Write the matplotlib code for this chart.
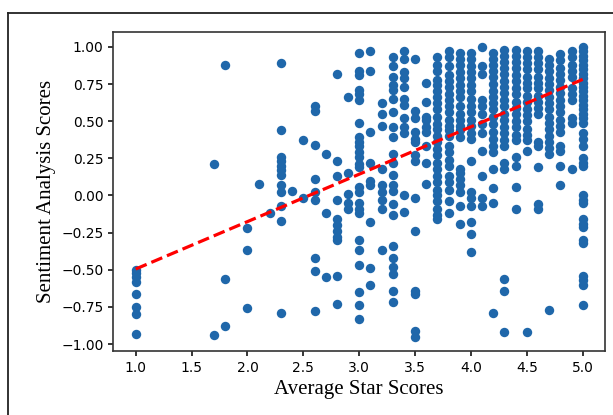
import numpy as np
import matplotlib
matplotlib.use("Agg")
import matplotlib.pyplot as plt
from matplotlib.lines import Line2D

# sentiment scores per average star score
scores = {
    1.0: [-0.50, -0.52, -0.55, -0.58, -0.66, -0.75, -0.80, -0.93],
    1.7: [0.21, -0.94],
    1.8: [0.88, -0.56, -0.88],
    2.0: [-0.22, -0.37, -0.76],
    2.1: [0.08],
    2.2: [-0.12],
    2.3: [0.89, 0.44, 0.26, 0.23, 0.20, 0.17, 0.14, 0.07, 0.02, -0.07, -0.17, -0.79],
    2.4: [0.03],
    2.5: [0.37, -0.02],
    2.6: [0.60, 0.57, 0.34, 0.11, 0.02, -0.03, -0.42, -0.51, -0.78],
    2.7: [0.28, -0.12, -0.55],
    2.8: [0.82, 0.23, 0.13, -0.03, -0.16, -0.20, -0.24, -0.28, -0.30, -0.54, -0.73],
    2.9: [0.66, 0.15, 0.01, -0.05, -0.09],
    3.0: [0.96, 0.84, 0.81, 0.71, 0.68, 0.64, 0.49, 0.39, 0.36, 0.33, 0.29, 0.26,
          0.21, 0.19, 0.06, 0.02, -0.05, -0.09, -0.12, -0.30, -0.37, -0.47, -0.65,
          -0.74, -0.83],
    3.1: [0.97, 0.84, 0.43, 0.22, 0.10, 0.07, -0.18, -0.49, -0.60],
    3.2: [0.62, 0.55, 0.47, 0.18, 0.07, 0.02, -0.03, -0.09, -0.37],
    3.3: [0.93, 0.87, 0.80, 0.74, 0.71, 0.65, 0.56, 0.46, 0.39, 0.28, 0.22, 0.14,
          0.07, 0.03, -0.06, -0.13, -0.34, -0.42, -0.48, -0.53, -0.64, -0.72],
    3.4: [0.97, 0.92, 0.83, 0.79, 0.73, 0.65, 0.61, 0.52, 0.46, 0.42, 0.0, -0.11],
    3.5: [0.92, 0.57, 0.52, 0.43, 0.38, 0.36, 0.27, 0.23, -0.02, -0.24, -0.64,
          -0.66, -0.91, -0.95],
    3.6: [0.76, 0.63, 0.53, 0.51, 0.46, 0.43, 0.33, 0.22, 0.08],
    3.7: [0.93, 0.88, 0.84, 0.78, 0.74, 0.70, 0.66, 0.62, 0.58, 0.53, 0.48, 0.45,
          0.40, 0.36, 0.31, 0.27, 0.22, 0.18, 0.13, 0.09, 0.04, 0.00, -0.04,
          -0.09, -0.13, -0.16],
    3.8: [0.97, 0.93, 0.87, 0.81, 0.77, 0.73, 0.68, 0.64, 0.60, 0.56, 0.51, 0.47,
          0.44, 0.40, 0.33, 0.29, 0.24, 0.20, 0.13, 0.09, 0.04, -0.04, -0.12],
    3.9: [0.96, 0.92, 0.88, 0.83, 0.79, 0.74, 0.70, 0.66, 0.60, 0.55, 0.51, 0.47,
          0.44, 0.39, 0.18, 0.15, 0.11, 0.07, 0.02, -0.07, -0.19],
    4.0: [0.96, 0.92, 0.87, 0.83, 0.79, 0.74, 0.70, 0.65, 0.60, 0.56, 0.51, 0.47,
          0.42, 0.38, 0.23, 0.02, -0.02, -0.07, -0.18, -0.26, -0.38],
    4.1: [1.00, 0.87, 0.82, 0.64, 0.60, 0.55, 0.48, 0.42, 0.30, 0.13, -0.02, -0.07],
    4.2: [0.96, 0.92, 0.88, 0.84, 0.80, 0.75, 0.70, 0.66, 0.62, 0.58, 0.53, 0.48,
          0.43, 0.38, 0.33, 0.29, 0.18, 0.05, -0.05, -0.79],
    4.3: [0.98, 0.94, 0.90, 0.86, 0.82, 0.77, 0.73, 0.69, 0.64, 0.60, 0.55, 0.51,
          0.46, 0.42, 0.37, 0.33, 0.22, 0.18, -0.56, -0.64, -0.92],
    4.4: [0.98, 0.94, 0.90, 0.86, 0.81, 0.77, 0.72, 0.68, 0.63, 0.59, 0.55, 0.50,
          0.46, 0.41, 0.37, 0.26, 0.20, 0.06, -0.09],
    4.5: [0.97, 0.93, 0.89, 0.85, 0.80, 0.76, 0.72, 0.67, 0.63, 0.58, 0.54, 0.50,
          0.45, 0.41, 0.37, 0.30, -0.92],
    4.6: [0.97, 0.93, 0.89, 0.85, 0.80, 0.76, 0.72, 0.67, 0.63, 0.59, 0.55, 0.36,
          0.33, 0.19, -0.06, -0.09],
    4.7: [0.92, 0.88, 0.84, 0.79, 0.75, 0.71, 0.66, 0.62, 0.58, 0.53, 0.49, 0.45,
          0.40, 0.36, 0.32, 0.28, -0.77],
    4.8: [0.95, 0.91, 0.86, 0.82, 0.78, 0.73, 0.69, 0.64, 0.60, 0.56, 0.51, 0.47,
          0.43, 0.33, 0.30, 0.20, 0.07],
    4.9: [0.97, 0.93, 0.88, 0.84, 0.80, 0.72, 0.68, 0.64, 0.52, 0.49, 0.18],
    5.0: [1.00, 0.97, 0.94, 0.91, 0.88, 0.85, 0.82, 0.79, 0.76, 0.73, 0.70, 0.67,
          0.64, 0.61, 0.58, 0.55, 0.52, 0.49, 0.42, 0.38, 0.33, 0.25, 0.22, 0.20,
          0.00, -0.03, -0.05, -0.16, -0.19, -0.21, -0.30, -0.32, -0.54, -0.57,
          -0.60, -0.74],
}

# fitted trend line
fit_slope = 0.319
fit_intercept = -0.814
fit_range = [1.0, 5.0]

stars = []
sentiment = []
for k, v in scores.items():
    stars += [k] * len(v)
    sentiment += v

fig = plt.figure(figsize=(6.13, 4.15), dpi=100)
ax = fig.add_axes([0.185, 0.154, 0.802, 0.768])

ax.scatter(stars, sentiment, color="#1f67aa", s=46, linewidths=0, zorder=2)
xs = np.array(fit_range)
ax.plot(xs, fit_slope * xs + fit_intercept, "r--", linewidth=2.3, zorder=3)

ax.set_xlabel("Average Star Scores", family="Liberation Serif", fontsize=15)
ax.set_ylabel("Sentiment Analysis Scores", family="Liberation Serif", fontsize=15)
ax.set_xticks([1.0, 1.5, 2.0, 2.5, 3.0, 3.5, 4.0, 4.5, 5.0])
ax.set_yticks([-1.0, -0.75, -0.5, -0.25, 0.0, 0.25, 0.5, 0.75, 1.0])
ax.tick_params(labelsize=10, width=1.1)
for s in ax.spines.values():
    s.set_color("#333333")
    s.set_linewidth(1.2)

# outer frame (left and top edges visible)
fig.add_artist(Line2D([8 / 613, 8 / 613], [0, 1 - 13 / 415], color="#222222", linewidth=1.3))
fig.add_artist(Line2D([8 / 613, 1], [1 - 13 / 415, 1 - 13 / 415], color="#222222", linewidth=1.3))

fig.savefig("out.png", dpi=100)
